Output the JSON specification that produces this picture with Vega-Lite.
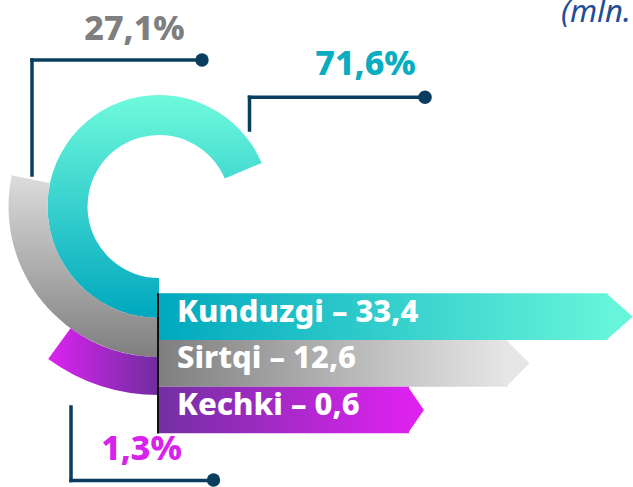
{
  "$schema": "https://vega.github.io/schema/vega-lite/v6.json",
  "width": 633,
  "height": 487,
  "autosize": "none",
  "padding": 0,
  "background": "white",
  "config": {
    "view": {"stroke": null},
    "locale": {"number": {"decimal": ",", "thousands": " ", "grouping": [3], "currency": ["", ""]}},
    "text": {"font": "Noto Sans"}
  },
  "datasets": {
    "rows": [
      {"name": "Kunduzgi", "value": 33.4, "share": 0.716},
      {"name": "Sirtqi", "value": 12.6, "share": 0.271},
      {"name": "Kechki", "value": 0.6, "share": 0.013}
    ]
  },
  "data": {"name": "rows"},
  "resolve": {"scale": {"x": "independent", "y": "independent", "color": "independent", "shape": "independent"}},
  "layer": [
    {
      "layer": [
        {
          "transform": [{"filter": "datum.name === 'Kunduzgi'"}],
          "mark": {"type": "arc", "radius": 111.5, "radius2": 71.5,
            "fill": {"gradient": "linear", "x1": 0, "y1": 0, "x2": 0, "y2": 1, "stops": [{"offset": 0, "color": "#6FFADC"}, {"offset": 1, "color": "#00A7BE"}]}},
          "encoding": {
            "x": {"datum": 159, "type": "quantitative", "scale": {"type": "linear", "domain": [0, 633], "zero": false, "nice": false}, "axis": null},
            "y": {"datum": 206.5, "type": "quantitative", "scale": {"type": "linear", "domain": [0, 487], "reverse": true, "zero": false, "nice": false}, "axis": null},
            "theta": {"field": "share", "type": "quantitative", "stack": null, "scale": {"type": "linear", "domain": [0, 0.013, 0.271, 0.716], "range": [3.1416, 3.7699, 4.9218, 7.4526], "zero": false, "nice": false}},
            "theta2": {"datum": 0}
          }
        },
        {
          "transform": [{"filter": "datum.name === 'Sirtqi'"}],
          "mark": {"type": "arc", "radius": 150.5, "radius2": 111.5,
            "fill": {"gradient": "linear", "x1": 0, "y1": 0, "x2": 0, "y2": 1, "stops": [{"offset": 0, "color": "#DCDCDC"}, {"offset": 1, "color": "#7F7F7F"}]}},
          "encoding": {
            "x": {"datum": 159, "type": "quantitative", "scale": {"type": "linear", "domain": [0, 633], "zero": false, "nice": false}, "axis": null},
            "y": {"datum": 206.5, "type": "quantitative", "scale": {"type": "linear", "domain": [0, 487], "reverse": true, "zero": false, "nice": false}, "axis": null},
            "theta": {"field": "share", "type": "quantitative", "stack": null, "scale": {"type": "linear", "domain": [0, 0.013, 0.271, 0.716], "range": [3.1416, 3.7699, 4.9218, 7.4526], "zero": false, "nice": false}},
            "theta2": {"datum": 0}
          }
        },
        {
          "transform": [{"filter": "datum.name === 'Kechki'"}],
          "mark": {"type": "arc", "radius": 188.5, "radius2": 150.5,
            "fill": {"gradient": "linear", "x1": 0, "y1": 0, "x2": 1, "y2": 0, "stops": [{"offset": 0, "color": "#DC22F0"}, {"offset": 1, "color": "#6E2E9F"}]}},
          "encoding": {
            "x": {"datum": 159, "type": "quantitative", "scale": {"type": "linear", "domain": [0, 633], "zero": false, "nice": false}, "axis": null},
            "y": {"datum": 206.5, "type": "quantitative", "scale": {"type": "linear", "domain": [0, 487], "reverse": true, "zero": false, "nice": false}, "axis": null},
            "theta": {"field": "share", "type": "quantitative", "stack": null, "scale": {"type": "linear", "domain": [0, 0.013, 0.271, 0.716], "range": [3.1416, 3.7699, 4.9218, 7.4526], "zero": false, "nice": false}},
            "theta2": {"datum": 0}
          }
        },
        {
          "transform": [{"filter": "datum.name === 'Sirtqi'"}],
          "mark": {"type": "rule", "color": "#0B3D5F", "strokeWidth": 3.5, "strokeCap": "square"},
          "encoding": {"x": {"datum": 32, "type": "quantitative"}, "y": {"datum": 60, "type": "quantitative"}, "y2": {"datum": 175}}
        },
        {
          "transform": [{"filter": "datum.name === 'Sirtqi'"}],
          "mark": {"type": "rule", "color": "#0B3D5F", "strokeWidth": 3.5, "strokeCap": "square"},
          "encoding": {"x": {"datum": 32, "type": "quantitative"}, "x2": {"datum": 202}, "y": {"datum": 60, "type": "quantitative"}}
        },
        {
          "transform": [{"filter": "datum.name === 'Sirtqi'"}],
          "mark": {"type": "point", "shape": "circle", "filled": true, "opacity": 1, "size": 180, "color": "#0B3D5F"},
          "encoding": {"x": {"datum": 202, "type": "quantitative"}, "y": {"datum": 60, "type": "quantitative"}}
        },
        {
          "transform": [{"filter": "datum.name === 'Kunduzgi'"}],
          "mark": {"type": "rule", "color": "#0B3D5F", "strokeWidth": 3.5, "strokeCap": "square"},
          "encoding": {"x": {"datum": 249.5, "type": "quantitative"}, "y": {"datum": 97.3, "type": "quantitative"}, "y2": {"datum": 130}}
        },
        {
          "transform": [{"filter": "datum.name === 'Kunduzgi'"}],
          "mark": {"type": "rule", "color": "#0B3D5F", "strokeWidth": 3.5, "strokeCap": "square"},
          "encoding": {"x": {"datum": 249.5, "type": "quantitative"}, "x2": {"datum": 425}, "y": {"datum": 97.3, "type": "quantitative"}}
        },
        {
          "transform": [{"filter": "datum.name === 'Kunduzgi'"}],
          "mark": {"type": "point", "shape": "circle", "filled": true, "opacity": 1, "size": 185, "color": "#0B3D5F"},
          "encoding": {"x": {"datum": 425, "type": "quantitative"}, "y": {"datum": 97.3, "type": "quantitative"}}
        },
        {
          "transform": [{"filter": "datum.name === 'Kechki'"}],
          "mark": {"type": "rule", "color": "#0B3D5F", "strokeWidth": 3.5, "strokeCap": "square"},
          "encoding": {"x": {"datum": 71, "type": "quantitative"}, "y": {"datum": 407, "type": "quantitative"}, "y2": {"datum": 480.5}}
        },
        {
          "transform": [{"filter": "datum.name === 'Kechki'"}],
          "mark": {"type": "rule", "color": "#0B3D5F", "strokeWidth": 3.5, "strokeCap": "square"},
          "encoding": {"x": {"datum": 71, "type": "quantitative"}, "x2": {"datum": 213.5}, "y": {"datum": 480.5, "type": "quantitative"}}
        },
        {
          "transform": [{"filter": "datum.name === 'Kechki'"}],
          "mark": {"type": "point", "shape": "circle", "filled": true, "opacity": 1, "size": 180, "color": "#0B3D5F"},
          "encoding": {"x": {"datum": 213.5, "type": "quantitative"}, "y": {"datum": 480, "type": "quantitative"}}
        },
        {
          "transform": [{"filter": "datum.name === 'Sirtqi'"}],
          "mark": {"type": "text", "align": "center", "baseline": "alphabetic", "fontSize": 34, "fontWeight": 800, "color": "#7F7F7F"},
          "encoding": {"x": {"datum": 134.5, "type": "quantitative"}, "y": {"datum": 40, "type": "quantitative"}, "text": {"field": "share", "type": "quantitative", "format": ".1%"}}
        },
        {
          "transform": [{"filter": "datum.name === 'Kunduzgi'"}],
          "mark": {"type": "text", "align": "center", "baseline": "alphabetic", "fontSize": 34, "fontWeight": 800, "color": "#08ADC0"},
          "encoding": {"x": {"datum": 365.5, "type": "quantitative"}, "y": {"datum": 75, "type": "quantitative"}, "text": {"field": "share", "type": "quantitative", "format": ".1%"}}
        },
        {
          "transform": [{"filter": "datum.name === 'Kechki'"}],
          "mark": {"type": "text", "align": "center", "baseline": "alphabetic", "fontSize": 34, "fontWeight": 800, "color": "#D823EC"},
          "encoding": {"x": {"datum": 141.5, "type": "quantitative"}, "y": {"datum": 460, "type": "quantitative"}, "text": {"field": "share", "type": "quantitative", "format": ".1%"}}
        },
        {
          "transform": [{"filter": "datum.name === 'Kunduzgi'"}],
          "mark": {"type": "text", "align": "left", "baseline": "alphabetic", "fontSize": 31, "fontStyle": "italic", "color": "#1F4E96", "text": "(mln. kishi)"},
          "encoding": {"x": {"datum": 561, "type": "quantitative"}, "y": {"datum": 22, "type": "quantitative"}}
        }
      ]
    },
    {
      "encoding": {
        "y": {"field": "name", "type": "nominal", "axis": null,
          "scale": {"type": "band", "domain": ["Kunduzgi", "Sirtqi", "Kechki"], "range": [293.3, 433.3], "paddingInner": 0, "paddingOuter": 0}}
      },
      "layer": [
        {
          "mark": {"type": "bar"},
          "encoding": {
            "x": {"field": "value", "type": "quantitative", "axis": null,
              "scale": {"type": "linear", "domain": [0, 0.6, 12.6, 33.4], "range": [158, 409, 507.5, 607.5], "zero": false, "nice": false}},
            "x2": {"datum": 0},
            "color": {
              "condition": [
                {"test": "datum.name === 'Kunduzgi'", "value": {"gradient": "linear", "x1": 0, "y1": 0, "x2": 1, "y2": 0, "stops": [{"offset": 0, "color": "#00A8BE"}, {"offset": 1, "color": "#66F4DA"}]}},
                {"test": "datum.name === 'Sirtqi'", "value": {"gradient": "linear", "x1": 0, "y1": 0, "x2": 1, "y2": 0, "stops": [{"offset": 0, "color": "#7F7F7F"}, {"offset": 1, "color": "#E6E6E6"}]}}
              ],
              "value": {"gradient": "linear", "x1": 0, "y1": 0, "x2": 1, "y2": 0, "stops": [{"offset": 0, "color": "#7230A2"}, {"offset": 1, "color": "#DD22EF"}]}
            }
          }
        },
        {
          "mark": {"type": "point", "filled": true, "opacity": 1, "size": 2180, "strokeWidth": 0},
          "encoding": {
            "x": {"field": "value", "type": "quantitative"},
            "shape": {"field": "name", "type": "nominal", "legend": null,
              "scale": {"domain": ["Kunduzgi", "Sirtqi", "Kechki"], "range": ["M -0.05 -1 L 1.08 0 L -0.05 1 Z", "M -0.05 -1 L 0.94 0 L -0.05 1 Z", "M -0.05 -1 L 0.64 0 L -0.05 1 Z"]}},
            "color": {"field": "name", "type": "nominal", "legend": null,
              "scale": {"domain": ["Kunduzgi", "Sirtqi", "Kechki"], "range": ["#66F4DA", "#E6E6E6", "#DD22EF"]}}
          }
        },
        {
          "mark": {"type": "tick", "color": "#111111", "size": 47, "thickness": 2, "opacity": 1},
          "encoding": {"x": {"datum": 0, "type": "quantitative"}}
        },
        {
          "mark": {"type": "text", "align": "left", "baseline": "alphabetic", "dx": 19, "dy": 5, "fontSize": 31, "fontWeight": 800, "color": "white",
            "text": {"expr": "datum.name + ' – ' + replace(format(datum.value, '.1f'), '.', ',')"}},
          "encoding": {"x": {"datum": 0, "type": "quantitative"}}
        }
      ]
    }
  ]
}
